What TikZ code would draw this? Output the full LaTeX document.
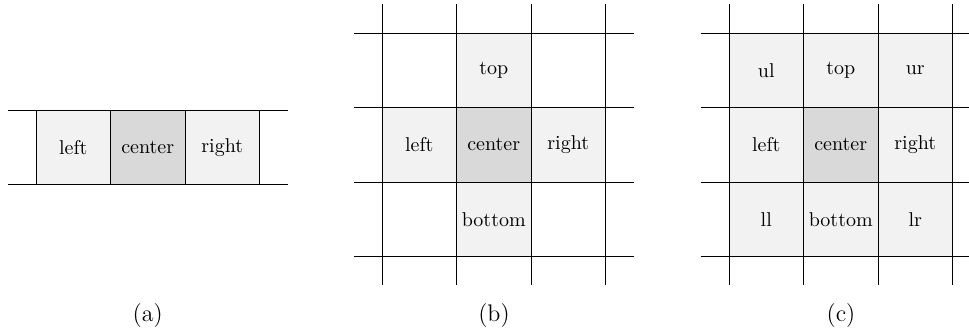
\documentclass[tikz,border=0pt]{standalone}
\begin{document}
\begin{tikzpicture}[x=0.5pt,y=-0.5pt,
  cellbox/.style={minimum width=37.25pt,minimum height=37.25pt,inner sep=0pt,outer sep=0pt,font=\normalsize},
  light/.style={cellbox,fill=black!5},
  dark/.style={cellbox,fill=black!15},
  blank/.style={cellbox},
  gridline/.style={line width=0.5pt,black},
  caption/.style={font=\large}]
\useasboundingbox (0,0) rectangle (969,332);
% ---------- (a)
\def\cs{74.5}
\node[light] (a-left) at (73.25,147.25) {left};
\node[dark] (a-center) at (147.75,147.25) {center};
\node[light] (a-right) at (222.25,147.25) {right};
\draw[gridline] (8,110) -- (288,110);
\draw[gridline] (8,184.5) -- (288,184.5);
\foreach \x in {36,110.5,185,259.5} \draw[gridline] (\x,110) -- (\x,184.5);
\node[caption] (cap-a) at (147.75,316) {(a)};
% ---------- (b)
\node[light] (b-top) at (493.75,70.25) {top};
\node[light] (b-left) at (419.25,144.75) {left};
\node[dark] (b-center) at (493.75,144.75) {center};
\node[light] (b-right) at (568.25,144.75) {right};
\node[light] (b-bottom) at (493.75,219.25) {bottom};
\foreach \y in {33,107.5,182,256.5} \draw[gridline] (354,\y) -- (634,\y);
\foreach \x in {382,456.5,531,605.5} \draw[gridline] (\x,4) -- (\x,285);
\node[caption] (cap-b) at (494,316) {(b)};
% ---------- (c)
\node[light] (c-ul) at (766.25,70.25) {ul};
\node[light] (c-top) at (840.75,70.25) {top};
\node[light] (c-ur) at (915.25,70.25) {ur};
\node[light] (c-left) at (766.25,144.75) {left};
\node[dark] (c-center) at (840.75,144.75) {center};
\node[light] (c-right) at (915.25,144.75) {right};
\node[light] (c-ll) at (766.25,219.25) {ll};
\node[light] (c-bottom) at (840.75,219.25) {bottom};
\node[light] (c-lr) at (915.25,219.25) {lr};
\foreach \y in {33,107.5,182,256.5} \draw[gridline] (701,\y) -- (969,\y);
\foreach \x in {729,803.5,878,952.5} \draw[gridline] (\x,4) -- (\x,285);
\node[caption] (cap-c) at (841,316) {(c)};
\end{tikzpicture}
\end{document}
